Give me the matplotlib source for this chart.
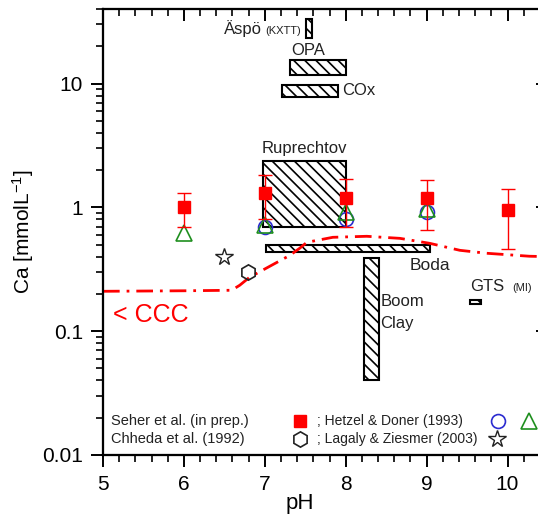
import numpy as np
import matplotlib
matplotlib.use('Agg')
import matplotlib.pyplot as plt
from matplotlib.patches import Rectangle
from matplotlib.ticker import MultipleLocator, LogLocator, NullFormatter, FixedLocator, FixedFormatter

plt.rcParams['font.family'] = ['Liberation Sans', 'DejaVu Sans']
plt.rcParams['mathtext.default'] = 'regular'
plt.rcParams['hatch.linewidth'] = 1.2

# Seher et al. (in prep.) - red squares with error bars
ph_seher = np.array([6, 7, 8, 9, 10])
ca_seher = np.array([1.0, 1.30, 1.18, 1.18, 0.95])
ca_seher_lo = np.array([0.70, 0.80, 0.69, 0.66, 0.46])
ca_seher_hi = np.array([1.30, 1.81, 1.68, 1.65, 1.42])

# Hetzel & Doner (1993) - circles and triangles
ph_circ = [7, 8, 9]
ca_circ = [0.70, 0.81, 0.92]
ph_tri = [6, 7, 8, 9]
ca_tri = [0.62, 0.72, 0.91, 0.97]

# Chheda et al. (1992) hexagon, Lagaly & Ziesmer (2003) star
ph_hex = [6.79]
ca_hex = [0.30]
ph_star = [6.5]
ca_star = [0.40]

# critical coagulation concentration curve
ph_ccc = [5.0, 6.0, 6.59, 6.69, 6.81, 7.06, 7.31, 7.43, 7.52, 7.84, 8.26, 8.67, 9.04, 9.41, 9.74, 10.27, 10.5]
ca_ccc = [0.210, 0.212, 0.214, 0.235, 0.272, 0.334, 0.41, 0.467, 0.522, 0.573, 0.584, 0.562, 0.512, 0.45, 0.426, 0.403, 0.40]

# pore water ranges of the sites
sites = ['Äspö', 'OPA', 'COx', 'Ruprechtov', 'Boda', 'Boom Clay', 'GTS']
site_ph_lo = [7.51, 7.31, 7.21, 6.98, 7.01, 8.23, 9.54]
site_ph_hi = [7.58, 8.00, 7.90, 8.00, 9.04, 8.41, 9.67]
site_ca_lo = [23.5, 11.8, 7.85, 0.69, 0.434, 0.040, 0.165]
site_ca_hi = [33.5, 15.6, 9.8, 2.35, 0.494, 0.388, 0.178]

W, H = 538, 517
fig = plt.figure(figsize=(W/100, H/100), dpi=100)
ax = fig.add_axes([103/W, 62/H, 445/W, 446/H])
ax.set_yscale('log')
ax.set_xlim(5, 10.5)
ax.set_ylim(0.01, 40)

# boxes
for i in range(len(sites)):
    r = Rectangle((site_ph_lo[i], site_ca_lo[i]),
                  site_ph_hi[i]-site_ph_lo[i], site_ca_hi[i]-site_ca_lo[i],
                  facecolor='white', edgecolor='black', lw=1.5, hatch='\\\\\\', zorder=2)
    ax.add_patch(r)

# CCC line
ax.plot(ph_ccc, ca_ccc, color='red', lw=2, dashes=(6, 2.5, 1, 2.5), zorder=3)

# data points
ax.plot(ph_circ, ca_circ, 'o', ms=10, mfc='none', mec='#2b2bd0', mew=1.2, zorder=4)
ax.plot(ph_tri, ca_tri, '^', ms=12, mfc='none', mec='#1f8f1f', mew=1.2, zorder=5)
ax.errorbar(ph_seher, ca_seher, yerr=[ca_seher-ca_seher_lo, ca_seher_hi-ca_seher],
            fmt='s', color='red', ms=9, capsize=5, elinewidth=1, capthick=1, zorder=6)
ax.plot(ph_hex, ca_hex, 'h', ms=11, mfc='none', mec='#222222', mew=1.2, zorder=5)
ax.plot(ph_star, ca_star, '*', ms=13, mfc='none', mec='#222222', mew=1.0, zorder=5)

# site labels
ax.text(6.96, 24.9, 'Äspö', ha='right', va='baseline', fontsize=12, color='#222222')
ax.text(7.0, 24.9, '(KXTT)', ha='left', va='baseline', fontsize=8, color='#222222')
ax.text(7.54, 18.5, 'OPA', ha='center', va='center', fontsize=12, color='#222222')
ax.text(7.96, 8.78, 'COx', ha='left', va='center', fontsize=12, color='#222222')
ax.text(7.49, 2.99, 'Ruprechtov', ha='center', va='center', fontsize=12, color='#222222')
ax.text(9.04, 0.34, 'Boda', ha='center', va='center', fontsize=12.5, color='#222222')
ax.text(8.43, 0.175, 'Boom', ha='left', va='center', fontsize=12, color='#222222')
ax.text(8.43, 0.116, 'Clay', ha='left', va='center', fontsize=12, color='#222222')
ax.text(9.54, 0.21, 'GTS', ha='left', va='baseline', fontsize=12, color='#222222')
ax.text(10.06, 0.21, '(MI)', ha='left', va='baseline', fontsize=8, color='#222222')
ax.text(5.12, 0.134, '< CCC', ha='left', va='center', fontsize=18, color='red')

# legend drawn by hand
tr = ax.get_xaxis_transform()
y1 = (455-421)/446
y2 = (455-439)/446
ax.text(5.1, y1, 'Seher et al. (in prep.)', transform=tr, ha='left', va='center', fontsize=10.5, color='#222222')
ax.text(5.1, y2, 'Chheda et al. (1992)', transform=tr, ha='left', va='center', fontsize=10.5, color='#222222')
ax.plot([7.43], [y1], 's', ms=9, color='red', transform=tr, clip_on=False)
ax.text(7.64, y1, '; Hetzel & Doner (1993)', transform=tr, ha='left', va='center', fontsize=10, color='#222222')
ax.plot([9.88], [y1], 'o', ms=10, mfc='none', mec='#2b2bd0', mew=1.2, transform=tr, clip_on=False)
ax.plot([10.27], [y1], '^', ms=12, mfc='none', mec='#1f8f1f', mew=1.2, transform=tr, clip_on=False)
ax.plot([7.44], [y2], 'h', ms=11, mfc='none', mec='#222222', mew=1.2, transform=tr, clip_on=False)
ax.text(7.64, y2, '; Lagaly & Ziesmer (2003)', transform=tr, ha='left', va='center', fontsize=10, color='#222222')
ax.plot([9.87], [y2], '*', ms=13, mfc='none', mec='#222222', mew=1.0, transform=tr, clip_on=False)

# axes styling
for s in ax.spines.values():
    s.set_linewidth(1.5)
ax.xaxis.set_major_locator(FixedLocator([5, 6, 7, 8, 9, 10]))
ax.xaxis.set_minor_locator(MultipleLocator(0.2))
ax.yaxis.set_major_locator(FixedLocator([0.01, 0.1, 1, 10]))
ax.yaxis.set_major_formatter(FixedFormatter(['0.01', '0.1', '1', '10']))
ax.yaxis.set_minor_locator(LogLocator(base=10, subs=np.arange(2, 10)))
ax.yaxis.set_minor_formatter(NullFormatter())
ax.tick_params(which='major', direction='out', length=8.5, width=1.4, labelsize=15, pad=6)
ax.tick_params(which='minor', direction='out', length=5, width=1.2)
ax.set_xlabel('pH', fontsize=16)
ax.xaxis.set_label_coords((300-103)/445, -0.085)
ax.set_ylabel('Ca [mmolL$^{-1}$]', fontsize=15)
ax.yaxis.set_label_coords(-0.15, 0.5)

# mirrored ticks on top and right, pointing inward
axt = ax.twiny()
axt.set_xlim(ax.get_xlim())
axt.xaxis.set_major_locator(FixedLocator([5, 6, 7, 8, 9, 10]))
axt.xaxis.set_minor_locator(MultipleLocator(0.2))
axt.tick_params(which='major', direction='in', length=8.5, width=1.4, labeltop=False)
axt.tick_params(which='minor', direction='in', length=5, width=1.2)
axr = ax.twinx()
axr.set_yscale('log')
axr.set_ylim(ax.get_ylim())
axr.yaxis.set_major_locator(FixedLocator([0.01, 0.1, 1, 10]))
axr.yaxis.set_minor_locator(LogLocator(base=10, subs=np.arange(2, 10)))
axr.tick_params(which='major', direction='in', length=8.5, width=1.4, labelright=False)
axr.tick_params(which='minor', direction='in', length=5, width=1.2)
axr.yaxis.set_minor_formatter(NullFormatter())
for a in (axt, axr):
    for s in a.spines.values():
        s.set_linewidth(1.5)

fig.savefig('out.png', dpi=100)
